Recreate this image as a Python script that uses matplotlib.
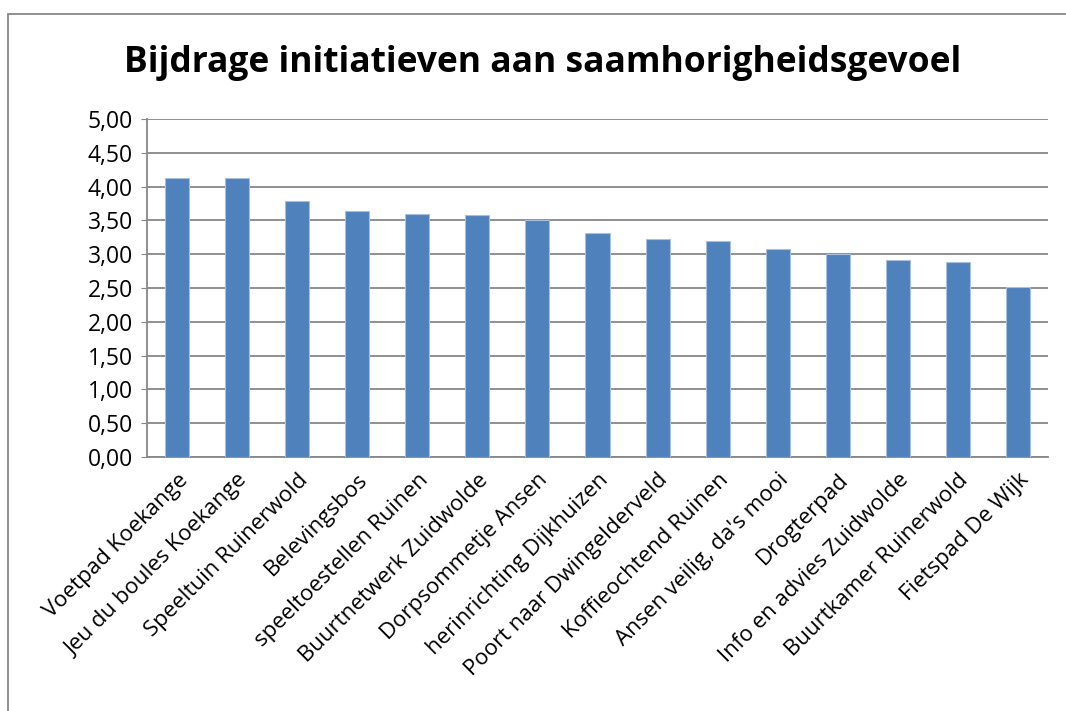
import matplotlib
matplotlib.use("Agg")
import matplotlib.pyplot as plt
from matplotlib.patches import Rectangle
from matplotlib.ticker import FuncFormatter

# Scores per initiatief
initiatieven = ["Voetpad Koekange", "Jeu du boules Koekange", "Speeltuin Ruinerwold",
                "Belevingsbos", "speeltoestellen Ruinen", "Buurtnetwerk Zuidwolde",
                "Dorpsommetje Ansen", "herinrichting Dijkhuizen", "Poort naar Dwingelderveld",
                "Koffieochtend Ruinen", "Ansen veilig, da's mooi", "Drogterpad",
                "Info en advies Zuidwolde", "Buurtkamer Ruinerwold", "Fietspad De Wijk"]
scores = [4.12, 4.12, 3.79, 3.64, 3.59, 3.58, 3.50, 3.31, 3.23, 3.19, 3.08, 3.00, 2.91, 2.88, 2.51]
y_ticks = [0, 0.5, 1, 1.5, 2, 2.5, 3, 3.5, 4, 4.5, 5]

plt.rcParams['font.family'] = ['Open Sans', 'DejaVu Sans']

fig = plt.figure(figsize=(10.66, 7.11), dpi=100)
ax = fig.add_axes([147 / 1066, 1 - 457 / 711, (1048 - 147) / 1066, (457 - 119) / 711])

x = range(len(initiatieven))
ax.bar(x, scores, width=0.4, color="#4f81bd", edgecolor="#a7c0de", linewidth=0.8, zorder=3)

ax.set_ylim(0, 5)
ax.set_xlim(-0.5, len(initiatieven) - 0.5)
ax.set_yticks(y_ticks)
ax.yaxis.set_major_formatter(FuncFormatter(lambda v, p: f"{v:.2f}".replace(".", ",")))
ax.yaxis.grid(True, color="#878787", linewidth=1.3, zorder=0)
ax.set_xticks(list(x))
ax.set_xticklabels(initiatieven, rotation=45, ha="right", rotation_mode="anchor")
ax.tick_params(axis="x", length=0, labelsize=16, pad=9)
ax.tick_params(axis="y", length=4, color="#878787", labelsize=16.5, pad=6)

for side in ("top", "right"):
    ax.spines[side].set_visible(False)
for side in ("left", "bottom"):
    ax.spines[side].set_color("#878787")
    ax.spines[side].set_linewidth(1.3)

fig.text(543 / 1066, 1 - 63 / 711, "Bijdrage initiatieven aan saamhorigheidsgevoel",
         ha="center", va="center", fontsize=25.5, fontweight="bold")

# chart area border
fig.patches.append(Rectangle((8 / 1066, -0.1), 1.2, 1 - 14 / 711 + 0.1, transform=fig.transFigure,
                             fill=False, edgecolor="#878787", linewidth=1.3))

fig.savefig("out.png", dpi=100)
